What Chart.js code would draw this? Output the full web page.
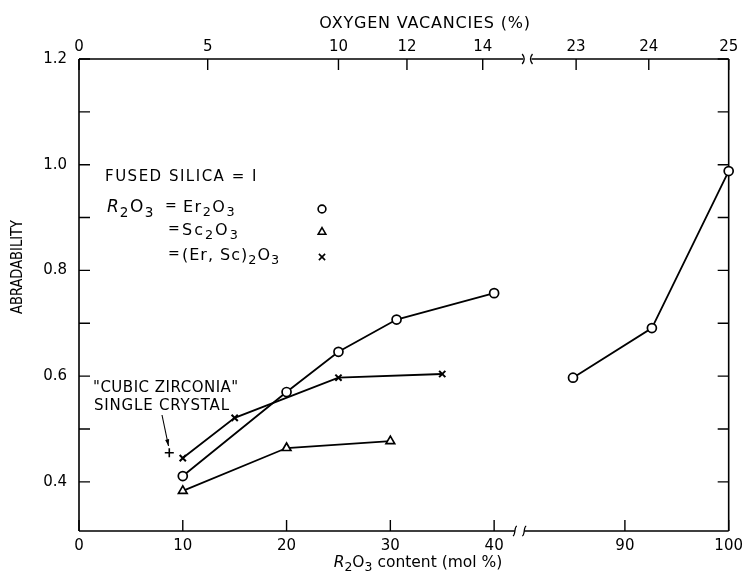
<!DOCTYPE html>
<html><head><meta charset="utf-8">
<script src="https://cdn.jsdelivr.net/npm/chart.js@4.4.1/dist/chart.umd.min.js"></script>
<style>html,body{margin:0;padding:0;background:#fff}</style>
</head><body>
<canvas id="c" width="749" height="584"></canvas>
<script>
// ---- data ----
const er2o3X = [10, 20, 25, 30.6, 40, 85, 92.6, 100];
const er2o3Y = [0.411, 0.570, 0.646, 0.707, 0.757, 0.597, 0.691, 0.988];
const sc2o3X = [10, 20, 30];
const sc2o3Y = [0.383, 0.464, 0.477];
const erScX = [10, 15, 25, 35];
const erScY = [0.445, 0.521, 0.597, 0.604];
const crystalX = [8.7];
const crystalY = [0.455];
const bottomTicks = [0, 10, 20, 30, 40, 90, 100];
const topTickLabels = ['0', '5', '10', '12', '14', '23', '24', '25'];
const topTickAt = [0, 12.4, 25, 31.6, 38.9, 85.3, 92.3, 100]; // mol % positions of vacancy ticks
const yTicks = [0.4, 0.5, 0.6, 0.7, 0.8, 0.9, 1.0, 1.1, 1.2];
const yLabels = ['0.4', '', '0.6', '', '0.8', '', '1.0', '', '1.2'];

// broken x axis: 0..42 then 80..100
const OFFSET = 37.4;
const AX_MAX = 100 - OFFSET;
function toAxis(v) { return v <= 60 ? v : v - OFFSET; }
function pts(xs, ys) { return xs.map((x, i) => ({ x: toAxis(x), y: ys[i] })); }
const erPts = pts(er2o3X, er2o3Y);
const erLeft = erPts.filter((p, i) => er2o3X[i] <= 60);
const erRight = erPts.filter((p, i) => er2o3X[i] > 60);

const FONT = '"DejaVu Sans", sans-serif';
const base = {
  type: 'scatter', showLine: true, borderColor: '#000', borderWidth: 1.8, tension: 0,
  pointBorderColor: '#000', pointBackgroundColor: '#fff', pointBorderWidth: 1.7,
  pointRadius: 4.5, clip: false
};

function runText(ctx, x, y, runs, size, spacing, measureOnly) {
  let cx = x;
  for (const r of runs) {
    const fs = r.sub ? size * 0.8 : size;
    ctx.font = (r.it ? 'italic ' : '') + fs + 'px ' + FONT;
    ctx.letterSpacing = (r.sp !== undefined ? r.sp : spacing) + 'px';
    const dy = r.sub ? size * 0.32 : 0;
    if (!measureOnly) ctx.fillText(r.t, cx, y + dy);
    cx += ctx.measureText(r.t).width;
  }
  return cx - x;
}

const decor = {
  id: 'decor',
  beforeDatasetsDraw(chart) {
    const ctx = chart.ctx, a = chart.chartArea, xs = chart.scales.x, ys = chart.scales.y, x2 = chart.scales.x2;
    const L = a.left, R = a.right, T = a.top, B = a.bottom;
    ctx.save();
    ctx.strokeStyle = '#000'; ctx.lineWidth = 1.6; ctx.lineCap = 'butt';
    ctx.beginPath();
    ctx.moveTo(L, T); ctx.lineTo(L, B);
    ctx.moveTo(R, T); ctx.lineTo(R, B);
    const b1 = xs.getPixelForValue(42.0), b2 = xs.getPixelForValue(42.9);
    ctx.moveTo(L, B); ctx.lineTo(b1, B);
    ctx.moveTo(b2, B); ctx.lineTo(R, B);
    const t1 = xs.getPixelForValue(42.8), t2 = xs.getPixelForValue(43.6);
    ctx.moveTo(L, T); ctx.lineTo(t1, T);
    ctx.moveTo(t2, T); ctx.lineTo(R, T);
    ctx.stroke();
    ctx.lineWidth = 1.3;
    ctx.beginPath();
    [b1, b2].forEach(bx => {
      ctx.moveTo(bx - 2, B + 5);
      ctx.bezierCurveTo(bx + 1, B + 4, bx - 1, B - 4, bx + 2, B - 5);
    });
    ctx.moveTo(t1 - 1, T - 5); ctx.quadraticCurveTo(t1 + 3, T, t1 - 1, T + 5);
    ctx.moveTo(t2 + 1, T - 5); ctx.quadraticCurveTo(t2 - 3, T, t2 + 1, T + 5);
    ctx.stroke();
    const TL = 11;
    ctx.lineWidth = 1.4;
    ctx.beginPath();
    yTicks.forEach(v => {
      const y = ys.getPixelForValue(v);
      ctx.moveTo(L, y); ctx.lineTo(L + TL, y);
      ctx.moveTo(R, y); ctx.lineTo(R - TL, y);
    });
    bottomTicks.forEach(v => {
      const x = xs.getPixelForValue(toAxis(v));
      ctx.moveTo(x, B); ctx.lineTo(x, B - TL);
    });
    topTickAt.forEach(v => {
      const x = x2.getPixelForValue(toAxis(v));
      ctx.moveTo(x, T); ctx.lineTo(x, T + TL);
    });
    ctx.stroke();
    ctx.restore();
  },
  afterDraw(chart) {
    const ctx = chart.ctx, a = chart.chartArea;
    const L = a.left, T = a.top;
    ctx.save();
    ctx.fillStyle = '#000'; ctx.textBaseline = 'middle'; ctx.textAlign = 'left';
    const topRuns = [{ t: 'OXYGEN VACANCIES (%)' }];
    let w = runText(ctx, 0, 0, topRuns, 16, 0.8, true);
    runText(ctx, 425 - w / 2, 24, topRuns, 16, 0.8);
    const botRuns = [{ t: 'R', it: true }, { t: '2', sub: true }, { t: 'O' }, { t: '3', sub: true }, { t: ' content (mol %)' }];
    w = runText(ctx, 0, 0, botRuns, 15.5, 0, true);
    runText(ctx, 418 - w / 2, 563, botRuns, 15.5, 0);
    ctx.save();
    ctx.translate(18, 267); ctx.rotate(-Math.PI / 2);
    ctx.font = '15px ' + FONT; ctx.letterSpacing = '0px';
    const tw = ctx.measureText('ABRADABILITY').width;
    ctx.scale(94 / tw, 1);
    ctx.textAlign = 'center';
    ctx.fillText('ABRADABILITY', 0, 0);
    ctx.restore();
    ctx.textAlign = 'left';
    // key block
    runText(ctx, L + 26, T + 118, [{ t: 'FUSED SILICA = I' }], 15, 1.5);
    runText(ctx, L + 28, T + 149, [{ t: 'R', it: true, sp: 1 }, { t: '2', sub: true }, { t: 'O' }, { t: '3', sub: true }], 17, 1.5);
    runText(ctx, L + 86, T + 147, [{ t: '=' }], 14, 0);
    runText(ctx, L + 104, T + 149, [{ t: 'Er' }, { t: '2', sub: true }, { t: 'O' }, { t: '3', sub: true }], 16, 1.5);
    runText(ctx, L + 89, T + 170, [{ t: '=' }], 14, 0);
    runText(ctx, L + 103, T + 172, [{ t: 'Sc' }, { t: '2', sub: true }, { t: 'O' }, { t: '3', sub: true }], 16, 2);
    runText(ctx, L + 89, T + 195, [{ t: '=' }], 14, 0);
    runText(ctx, L + 103, T + 197, [{ t: '(Er, Sc)' }, { t: '2', sub: true }, { t: 'O' }, { t: '3', sub: true }], 16, 1);
    const H = Chart.helpers;
    ctx.strokeStyle = '#000'; ctx.lineWidth = 1.6; ctx.fillStyle = '#fff';
    H.drawPoint(ctx, { pointStyle: 'circle', radius: 3.9, borderWidth: 1.7 }, L + 243, T + 150);
    H.drawPoint(ctx, { pointStyle: 'triangle', radius: 4.4, borderWidth: 1.7 }, L + 243, T + 173);
    H.drawPoint(ctx, { pointStyle: 'crossRot', radius: 4.4, borderWidth: 1.8 }, L + 243, T + 198);
    // annotation
    ctx.fillStyle = '#000';
    runText(ctx, 93, 388, [{ t: '"CUBIC ZIRCONIA"' }], 15, 0.5);
    runText(ctx, 94, 406, [{ t: 'SINGLE CRYSTAL' }], 15, 0.8);
    ctx.strokeStyle = '#000'; ctx.lineWidth = 1.1;
    const ax0 = 162, ay0 = 415, ax1 = 168.5, ay1 = 446;
    ctx.beginPath(); ctx.moveTo(ax0, ay0); ctx.lineTo(ax1, ay1); ctx.stroke();
    const ang = Math.atan2(ay1 - ay0, ax1 - ax0);
    ctx.beginPath();
    ctx.moveTo(ax1, ay1);
    ctx.lineTo(ax1 - 7 * Math.cos(ang - 0.3), ay1 - 7 * Math.sin(ang - 0.3));
    ctx.lineTo(ax1 - 7 * Math.cos(ang + 0.3), ay1 - 7 * Math.sin(ang + 0.3));
    ctx.closePath(); ctx.fillStyle = '#000'; ctx.fill();
    ctx.restore();
  }
};

const tickFont = { family: FONT, size: 15 };
new Chart(document.getElementById('c'), {
  type: 'scatter',
  data: {
    datasets: [
      Object.assign({}, base, { label: 'Er2O3', data: erLeft, pointStyle: 'circle' }),
      Object.assign({}, base, { label: 'Er2O3 high', data: erRight, pointStyle: 'circle' }),
      Object.assign({}, base, { label: 'Sc2O3', data: pts(sc2o3X, sc2o3Y), pointStyle: 'triangle', pointRadius: 5 }),
      Object.assign({}, base, { label: '(Er,Sc)2O3', data: pts(erScX, erScY), pointStyle: 'crossRot', pointRadius: 4.4, pointBorderWidth: 2 }),
      Object.assign({}, base, { label: 'Cubic zirconia single crystal', data: pts(crystalX, crystalY), showLine: false, pointStyle: 'cross', pointRadius: 4.5, pointBorderWidth: 1.6 })
    ]
  },
  options: {
    responsive: false, animation: false, devicePixelRatio: 1,
    layout: { padding: { left: 0, right: 16, top: 0, bottom: 0 } },
    plugins: { legend: { display: false }, tooltip: { enabled: false } },
    scales: {
      x: {
        type: 'linear', position: 'bottom', min: 0, max: AX_MAX,
        grid: { display: false, drawTicks: false }, border: { display: false },
        ticks: { autoSkip: false, maxRotation: 0, padding: 6, color: '#000', font: tickFont,
          callback: (v, i) => String(bottomTicks[i]) },
        afterBuildTicks: s => { s.ticks = bottomTicks.map(v => ({ value: toAxis(v) })); },
        afterFit: s => { s.height = 53; }
      },
      x2: {
        type: 'linear', position: 'top', min: 0, max: AX_MAX,
        grid: { display: false, drawTicks: false }, border: { display: false },
        ticks: { autoSkip: false, maxRotation: 0, padding: 3, color: '#000', font: tickFont,
          callback: (v, i) => topTickLabels[i] },
        afterBuildTicks: s => { s.ticks = topTickAt.map(v => ({ value: toAxis(v) })); },
        afterFit: s => { s.height = 59; }
      },
      y: {
        type: 'linear', min: 0.307, max: 1.2,
        grid: { display: false, drawTicks: false }, border: { display: false },
        ticks: { autoSkip: false, padding: 12, color: '#000', font: tickFont,
          callback: (v, i) => yLabels[i] },
        afterBuildTicks: s => { s.ticks = yTicks.map(v => ({ value: v })); },
        afterFit: s => { s.width = 79; }
      }
    }
  },
  plugins: [decor]
});
</script>
</body></html>
